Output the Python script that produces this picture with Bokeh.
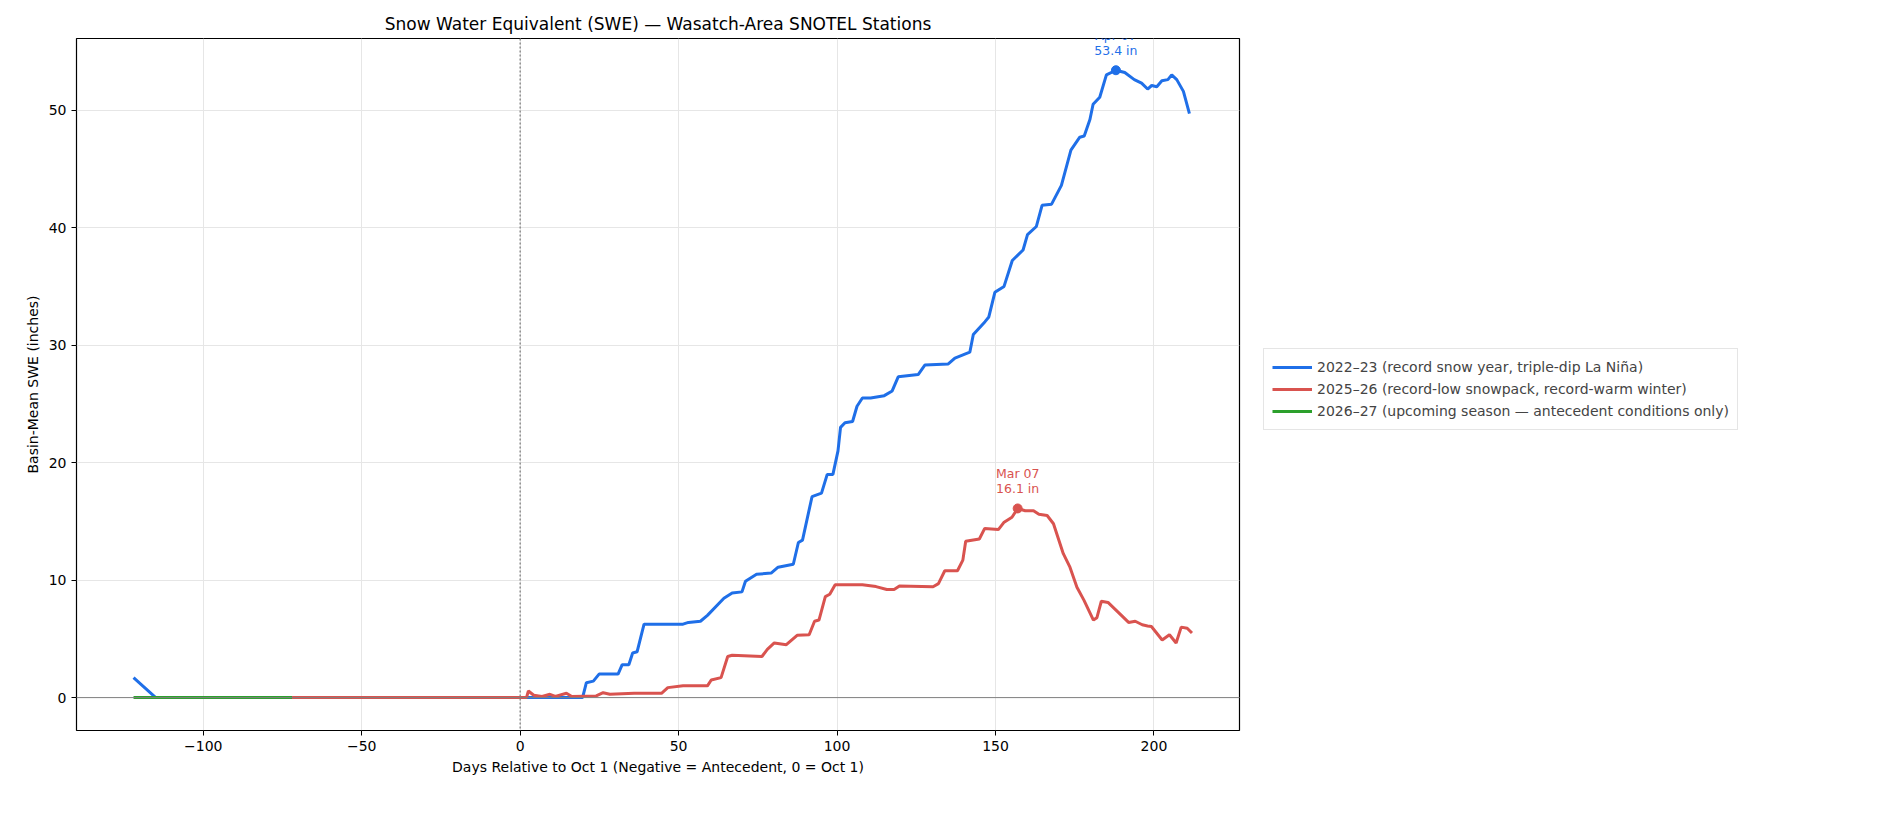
from bokeh.plotting import figure
from bokeh.models import Legend, LegendItem, Span, Range1d, FixedTicker, Label
from bokeh.embed import file_html
from bokeh.resources import INLINE

blue_day = [-122, -115, 19.7, 20.9, 23.1, 24.9, 30.9, 32.2, 34.3, 35.5, 36.9, 39.1, 51.4, 53.1, 56.9, 59.1, 64.3, 66.9, 70.0, 71.1, 74.6, 79.2, 81.4, 86.2, 87.8, 89.1, 92.1, 95.1, 96.9, 98.7, 100.3, 101.1, 102.5, 104.9, 106.3, 108.0, 110.6, 114.9, 117.4,
            119.3, 125.6, 127.7, 135.1, 137.2, 141.9, 143.0, 146.7, 147.9, 149.8, 152.7, 155.3, 158.7, 160.1, 162.9, 164.7, 167.7, 170.8, 173.8, 176.6, 178.0, 179.8, 180.8, 182.9, 185.0, 188.0, 190.8, 193.8, 196.1, 198.0, 199.3, 200.9, 202.5, 204.4, 205.6, 207.2, 209.3, 211.2]
blue_swe = [1.7, 0, 0, 1.27, 1.4, 2.0, 2.0, 2.8, 2.8, 3.8, 3.9, 6.25, 6.25, 6.4, 6.5, 7.0, 8.45, 8.9, 9.0, 9.9, 10.5, 10.6, 11.1, 11.35, 13.2, 13.4, 17.1, 17.4, 19.0, 19.0, 21.0, 23.0, 23.4, 23.5, 24.8, 25.5, 25.5, 25.7, 26.1,
            27.3, 27.5, 28.3, 28.4, 28.9, 29.4, 30.9, 32.0, 32.4, 34.5, 35.0, 37.2, 38.1, 39.4, 40.1, 41.9, 42.0, 43.6, 46.6, 47.7, 47.8, 49.2, 50.5, 51.1, 53.0, 53.4, 53.2, 52.6, 52.3, 51.8, 52.1, 52.0, 52.5, 52.6, 53.0, 52.6, 51.6, 49.7]

red_day = [-72, 2, 2.6, 4.3, 6.9, 9.4, 11.1, 14.6, 16.3, 24, 26.2, 28.3, 36, 44.6, 46.6, 51.4, 59.1, 60.3, 63.4, 65.5, 66.9, 76.3, 78, 80.2, 84, 87.4, 91.2, 92.9, 94.3, 96.3, 97.7, 99.4, 108, 112.3, 115.7, 118, 119.7, 130.3, 132, 134, 138, 139.7, 140.6, 144.9, 146.6, 150.9, 152.6, 155.2, 157, 159.4, 162, 163.7, 166.3, 168.3, 171.4, 173.5, 175.7, 177.9, 180.9, 182, 183.4, 185.5, 188.6, 192, 194.1, 196.3, 198, 199.2, 202.6, 204.9, 207, 208.6, 210.5, 212]
red_swe = [0, 0, 0.56, 0.2, 0.1, 0.28, 0.1, 0.37, 0.1, 0.14, 0.42, 0.28, 0.37, 0.37, 0.85, 1.0, 1.0, 1.5, 1.7, 3.5, 3.6, 3.5, 4.1, 4.65, 4.5, 5.3, 5.35, 6.5, 6.6, 8.6, 8.8, 9.6, 9.6, 9.45, 9.2, 9.2, 9.5, 9.44, 9.7, 10.8, 10.8, 11.7, 13.3, 13.5, 14.4, 14.3, 14.9, 15.35, 16.1, 15.9, 15.9, 15.6, 15.5, 14.8, 12.25, 11.1, 9.4, 8.3, 6.6, 6.8, 8.2, 8.1, 7.3, 6.4, 6.5, 6.2, 6.1, 6.05, 4.9, 5.35, 4.65, 6.0, 5.9, 5.5]

green_day = [-122, -72]
green_swe = [0, 0]

peak_day = [188, 157]
peak_swe = [53.4, 16.1]
peak_label = ["Apr 07\n53.4 in", "Mar 07\n16.1 in"]
peak_color = ["#1f6fe8", "#d9534f"]

x_ticks = [-100, -50, 0, 50, 100, 150, 200]
y_ticks = [0, 10, 20, 30, 40, 50]

FONT = "DejaVu Sans"
p = figure(frame_width=1163, frame_height=692, output_backend="svg", toolbar_location=None,
           x_range=Range1d(-140, 227), y_range=Range1d(-2.8, 56.1),
           min_border_left=76, min_border_top=38, min_border_right=10,
           title="Snow Water Equivalent (SWE) — Wasatch-Area SNOTEL Stations")
p.title.align = "center"
p.title.text_font = FONT
p.title.text_font_size = "17px"
p.title.text_font_style = "normal"
p.title.text_color = "black"
p.outline_line_color = "black"
p.outline_line_width = 1.2
for ax in (p.xaxis, p.yaxis):
    ax.major_label_text_font = FONT
    ax.major_label_text_font_size = "14px"
    ax.major_label_text_color = "black"
    ax.axis_label_text_font = FONT
    ax.axis_label_text_font_size = "14px"
    ax.axis_label_text_font_style = "normal"
    ax.axis_label_text_color = "black"
    ax.minor_tick_line_color = None
    ax.axis_line_color = None
    ax.major_tick_out = 5
    ax.major_tick_in = 0
p.xaxis.ticker = FixedTicker(ticks=x_ticks)
p.yaxis.ticker = FixedTicker(ticks=y_ticks)
p.xaxis.axis_label = "Days Relative to Oct 1 (Negative = Antecedent, 0 = Oct 1)"
p.yaxis.axis_label = "Basin-Mean SWE (inches)"
p.grid.grid_line_color = "#e6e6e6"

p.add_layout(Span(location=0, dimension="width", line_color="gray", line_width=1))
p.add_layout(Span(location=0, dimension="height", line_color="gray", line_width=1.3, line_dash="2 2"))

lb = p.line(blue_day, blue_swe, line_color="#1f6fe8", line_width=3)
lr = p.line(red_day, red_swe, line_color="#d9534f", line_width=3)
lg = p.line(green_day, green_swe, line_color="#2ca02c", line_width=3)

p.scatter(peak_day, peak_swe, size=9, color=peak_color)
for d, s, t, c in zip(peak_day, peak_swe, peak_label, peak_color):
    p.add_layout(Label(x=d, y=s, text=t, text_color=c, text_font=FONT,
                       text_font_size="12.5px", text_align="center", text_baseline="bottom",
                       y_offset=12, text_line_height=1.0))

legend = Legend(items=[
    LegendItem(label="2022–23 (record snow year, triple-dip La Niña)", renderers=[lb]),
    LegendItem(label="2025–26 (record-low snowpack, record-warm winter)", renderers=[lr]),
    LegendItem(label="2026–27 (upcoming season — antecedent conditions only)", renderers=[lg]),
], location=(24, 300), label_text_font=FONT, label_text_font_size="14px",
    border_line_color="#cccccc", spacing=2, padding=8, margin=0, glyph_width=40)
p.add_layout(legend, "right")

open("out.html", "w").write(file_html(p, INLINE))
